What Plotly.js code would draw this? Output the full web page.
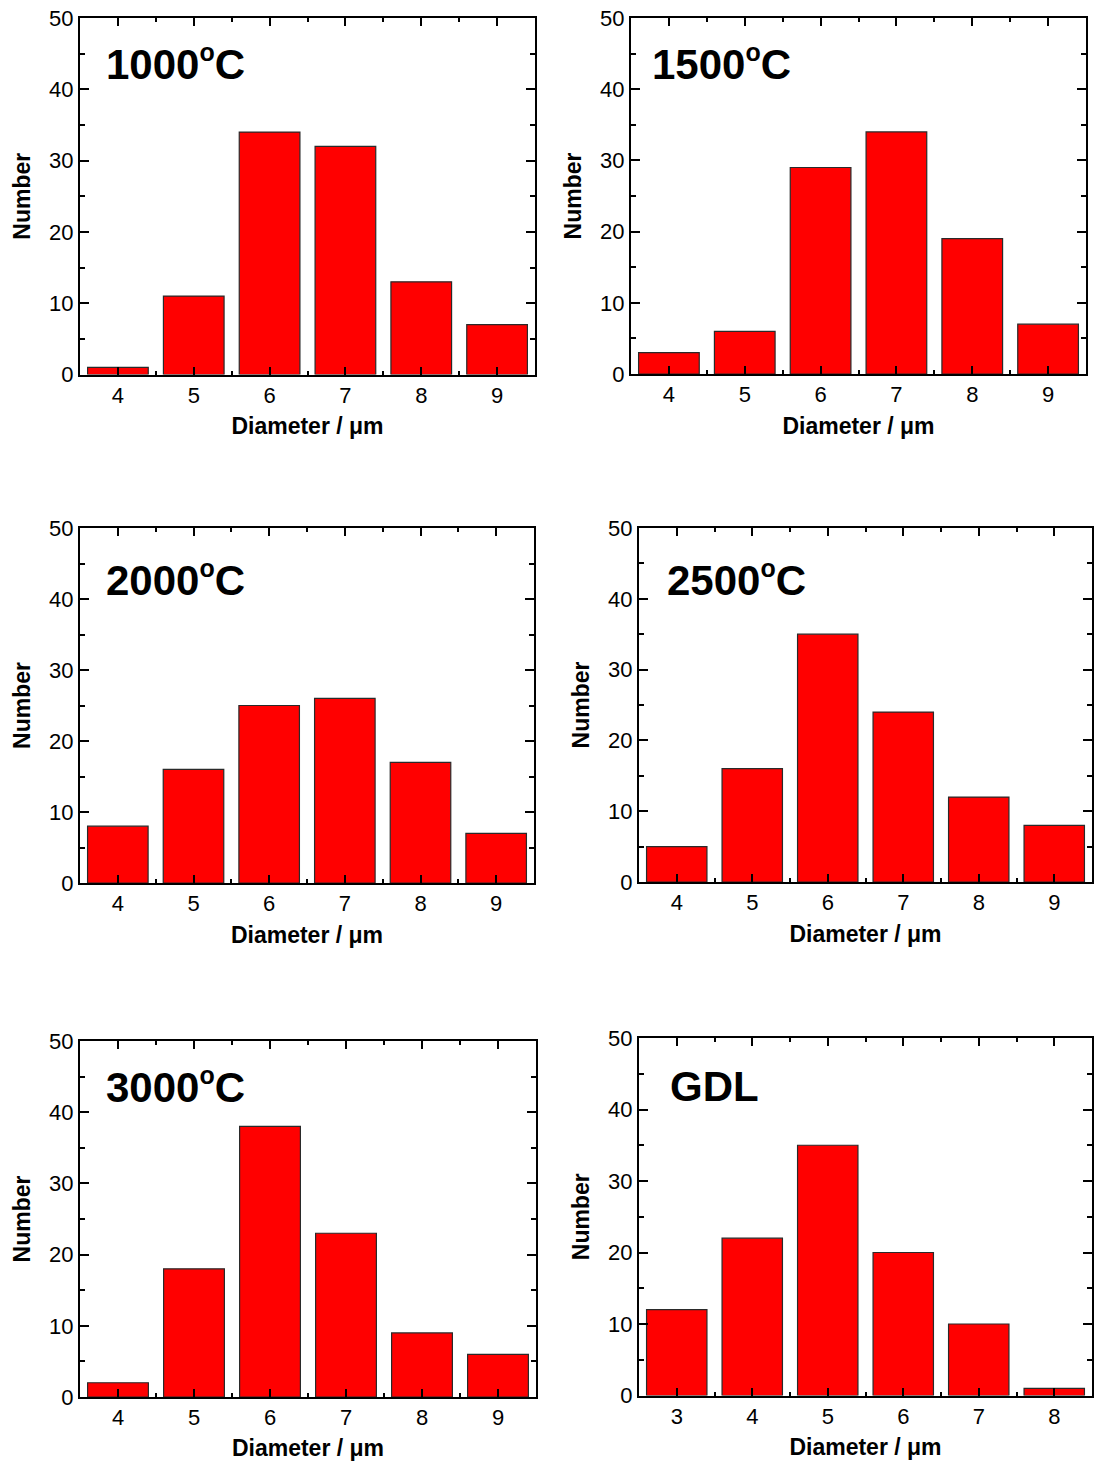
<!DOCTYPE html>
<html>
<head>
<meta charset="utf-8">
<script src="https://cdn.plot.ly/plotly-3.0.1.min.js"></script>
<style>html,body{margin:0;padding:0;background:#fff;}#chart{width:1097px;height:1461px;}</style>
</head>
<body>
<div id="chart"></div>
<script>
// Data
const diameters = [4, 5, 6, 7, 8, 9];
const diametersGDL = [3, 4, 5, 6, 7, 8];
const counts1000 = [1, 11, 34, 32, 13, 7];
const counts1500 = [3, 6, 29, 34, 19, 7];
const counts2000 = [8, 16, 25, 26, 17, 7];
const counts2500 = [5, 16, 35, 24, 12, 8];
const counts3000 = [2, 18, 38, 23, 9, 6];
const countsGDL = [12, 22, 35, 20, 10, 1];
const DEG = '<sup><span style="font-size:0.85em">o</span></sup>';
const panelLabels = ['1000' + DEG + 'C', '1500' + DEG + 'C', '2000' + DEG + 'C', '2500' + DEG + 'C', '3000' + DEG + 'C', 'GDL'];
const xTitle = 'Diameter / μm';
const yTitle = 'Number';

const W = 1097, H = 1461;
const FONT = 'Liberation Sans, Arial, Helvetica, sans-serif';

const xsets = [diameters, diameters, diameters, diameters, diameters, diametersGDL];
const ysets = [counts1000, counts1500, counts2000, counts2500, counts3000, countsGDL];

// pixel boxes [left, right, top, bottom]
const boxes = [
  [80, 535, 18, 374.5],
  [631, 1086, 18, 374],
  [80, 534, 528, 883],
  [639, 1092, 528, 882],
  [80, 536, 1041, 1397],
  [639, 1092, 1038, 1395.5]
];
const labelPos = [
  [0.053, 0.874],
  [0.042, 0.874],
  [0.053, 0.857],
  [0.058, 0.857],
  [0.053, 0.874],
  [0.064, 0.864]
];

const data = [];
const layout = {
  width: W, height: H,
  margin: {l: 0, r: 0, t: 0, b: 0},
  paper_bgcolor: '#fff', plot_bgcolor: '#fff',
  showlegend: false,
  font: {family: FONT, color: '#000'},
  annotations: []
};

for (let i = 0; i < 6; i++) {
  const n = i === 0 ? '' : String(i + 1);
  const b = boxes[i];
  data.push({
    type: 'bar',
    x: xsets[i], y: ysets[i],
    xaxis: 'x' + n, yaxis: 'y' + n,
    width: 0.8,
    marker: {color: '#ff0000', line: {color: '#2a2a2a', width: 1.2}},
    hoverinfo: 'x+y'
  });
  const x0 = xsets[i][0];
  layout['xaxis' + n] = {
    domain: [b[0] / W, b[1] / W],
    anchor: 'y' + n,
    range: [x0 - 0.5, x0 + 5.5],
    tickmode: 'linear', tick0: x0, dtick: 1,
    ticks: 'inside', ticklen: 8, tickwidth: 2, tickcolor: '#000',
    minor: {dtick: 0.5, tick0: x0 + 0.5, ticks: 'inside', ticklen: 4, tickwidth: 2, tickcolor: '#000'},
    showline: true, linecolor: '#000', linewidth: 2, mirror: 'allticks',
    showgrid: false, zeroline: false,
    tickfont: {family: FONT, size: 22, color: '#000'},
    title: {text: xTitle, font: {family: FONT, size: 23, color: '#000', weight: 'bold'}, standoff: 11},
    fixedrange: true
  };
  layout['yaxis' + n] = {
    domain: [1 - b[3] / H, 1 - b[2] / H],
    anchor: 'x' + n,
    range: [0, 50],
    tickmode: 'linear', tick0: 0, dtick: 10,
    ticks: 'inside', ticklen: 9, tickwidth: 2, tickcolor: '#000',
    minor: {dtick: 5, ticks: 'inside', ticklen: 5, tickwidth: 2, tickcolor: '#000'},
    showline: true, linecolor: '#000', linewidth: 2, mirror: 'allticks',
    showgrid: false, zeroline: false,
    tickfont: {family: FONT, size: 22, color: '#000'},
    title: {text: yTitle, font: {family: FONT, size: 23, color: '#000', weight: 'bold'}, standoff: 12},
    fixedrange: true
  };
  layout.annotations.push({
    xref: 'x' + n + ' domain', yref: 'y' + n + ' domain',
    x: labelPos[i][0], y: labelPos[i][1],
    xanchor: 'left', yanchor: 'middle',
    text: panelLabels[i], showarrow: false,
    font: {family: FONT, size: 42, color: '#000', weight: 'bold'}
  });
}

Plotly.newPlot('chart', data, layout, {displayModeBar: false, staticPlot: true});
</script>
</body>
</html>
